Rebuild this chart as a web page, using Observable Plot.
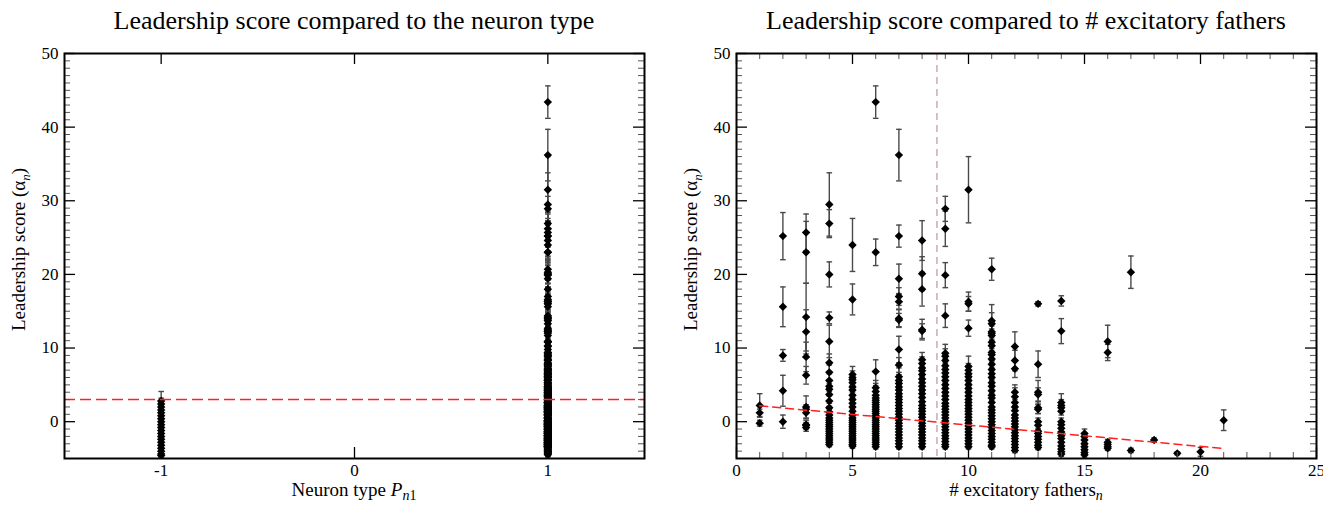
<!DOCTYPE html>
<html><head><meta charset="utf-8">
<script src="https://cdn.jsdelivr.net/npm/d3@7"></script>
<script src="https://cdn.jsdelivr.net/npm/@observablehq/plot@0.6"></script>
<style>
body{margin:0;background:#fff;font-family:"Liberation Serif","Times New Roman",serif;}
#wrap{position:relative;width:1323px;height:505px;overflow:hidden;background:#fff}
.panel{position:absolute;top:0;height:505px}
.title{position:absolute;top:0;height:42px;font-size:26px;text-align:center;line-height:42px;white-space:nowrap;color:#000}
.panel svg{position:absolute;top:40px;left:0;overflow:visible;font-family:"Liberation Serif","Times New Roman",serif !important}
.panel svg text{font-family:"Liberation Serif","Times New Roman",serif !important}
</style></head>
<body><div id="wrap"></div>
<script>
// ---------- data ----------
// number of excitatory fathers (x categories of right panel)
const fatherCounts = [1,2,3,4,5,6,7,8,9,10,11,12,13,14,15,16,17,18,19,20,21];
// [leadership score, error] for excitatory neurons, one list per father count
const pointsByFathers = [
  [[2.2,1.6],[1.2,0.5],[-0.2,0.4]],
  [[25.2,3.2],[15.6,2.7],[9.0,0.8],[4.2,2.1],[0.0,0.9]],
  [[25.7,2.5],[23.0,4.2],[14.2,4.6],[12.2,3.0],[8.8,2.0],[6.3,1.2],[2.0,1.5],[1.7,0.6],[1.2,0.8],[-0.4,0.6],[-0.8,0.5],[-0.5,0.4]],
  [[29.5,4.3],[26.9,1.9],[20.0,1.7],[14.1,0.8],[10.9,2.2],[8.0,1.2],[6.7,1.0],[5.6,0.9],[4.8,0.7],[4.4,0.8],[3.7,0.9],[2.8,0.7],[1.9,0.6],
   [1.3,0.4],[0.9,0.4],[0.5,0.4],[0.2,0.4],[-0.1,0.4],[-0.4,0.4],[-0.7,0.4],[-1.0,0.4],[-1.3,0.4],[-1.6,0.4],[-1.9,0.4],[-2.2,0.4],[-2.5,0.4],[-2.8,0.4],[-3.1,0.3]],
  [[24.0,3.6],[16.6,2.1],[6.4,1.1],[6.0,0.9],[5.7,0.8],[5.3,0.6],[4.7,0.7],[4.3,0.6],[3.6,0.7],[3.0,0.6],[2.5,0.8],[2.0,0.6],[1.4,0.7],[0.9,0.5],
   [0.5,0.4],[0.2,0.4],[-0.1,0.4],[-0.4,0.4],[-0.7,0.4],[-1.0,0.4],[-1.3,0.4],[-1.6,0.4],[-1.9,0.4],[-2.2,0.4],[-2.5,0.4],[-2.8,0.4],[-3.1,0.3],[-3.3,0.3]],
  [[43.4,2.2],[23.0,1.8],[6.8,1.6],[4.6,1.0],[4.1,0.8],[3.6,0.9],[3.2,0.8],[2.9,0.6],
   [2.6,0.5],[2.3,0.5],[2.0,0.5],[1.7,0.4],[1.4,0.4],[1.1,0.4],[0.8,0.4],[0.5,0.4],[0.2,0.4],[-0.1,0.4],[-0.4,0.4],[-0.7,0.4],[-1.0,0.4],[-1.3,0.4],[-1.6,0.4],[-1.9,0.4],[-2.2,0.4],[-2.5,0.4],[-2.8,0.4],[-3.1,0.3],[-3.4,0.3]],
  [[36.2,3.5],[25.2,1.5],[19.4,2.0],[17.0,1.2],[16.3,1.0],[14.0,1.2],[13.8,0.9],[9.8,1.8],[7.7,1.0],[6.1,1.2],[5.6,0.8],[5.2,0.6],[4.7,0.6],[4.3,0.7],[3.8,0.8],[3.4,0.6],[3.0,0.6],[2.6,0.5],
   [2.2,0.5],[1.8,0.4],[1.4,0.4],[1.0,0.4],[0.6,0.4],[0.2,0.4],[-0.2,0.4],[-0.6,0.4],[-1.0,0.4],[-1.4,0.4],[-1.8,0.4],[-2.2,0.4],[-2.6,0.4],[-3.0,0.3],[-3.4,0.3]],
  [[24.6,2.7],[20.1,2.3],[18.0,2.3],[12.5,1.4],[12.3,1.0],[8.4,1.0],[7.9,0.9],[7.3,1.1],[6.9,0.8],[6.4,0.9],[5.8,1.0],[5.3,0.8],[4.8,0.7],[4.3,0.6],[3.8,0.7],[3.3,0.8],[2.7,0.6],
   [2.2,0.5],[1.8,0.4],[1.4,0.4],[1.0,0.4],[0.6,0.4],[0.2,0.4],[-0.2,0.4],[-0.6,0.4],[-1.0,0.4],[-1.4,0.4],[-1.8,0.4],[-2.2,0.4],[-2.6,0.4],[-3.0,0.3],[-3.4,0.3]],
  [[28.9,1.7],[26.2,2.4],[19.9,1.7],[14.4,1.6],[9.3,1.2],[8.9,1.0],[8.3,0.9],[7.6,1.0],[7.1,1.3],[6.6,0.9],[6.1,0.8],[5.6,0.8],[5.0,1.0],[4.5,0.7],[4.0,0.6],[3.5,0.6],[3.0,0.7],
   [2.5,0.5],[2.1,0.4],[1.7,0.4],[1.3,0.4],[0.9,0.4],[0.5,0.4],[0.1,0.4],[-0.3,0.4],[-0.7,0.4],[-1.1,0.4],[-1.5,0.4],[-1.9,0.4],[-2.3,0.4],[-2.7,0.4],[-3.1,0.3],[-3.4,0.3]],
  [[31.5,4.5],[16.3,1.3],[16.0,1.0],[12.7,1.1],[7.5,1.4],[7.0,0.9],[6.5,1.1],[6.1,0.9],[5.6,0.8],[5.0,0.8],[4.5,0.7],[4.0,0.6],[3.5,0.7],[3.0,0.6],[2.6,0.5],
   [2.2,0.5],[1.8,0.4],[1.4,0.4],[1.0,0.4],[0.6,0.4],[0.2,0.4],[-0.2,0.4],[-0.6,0.4],[-1.0,0.4],[-1.4,0.4],[-1.8,0.4],[-2.2,0.4],[-2.6,0.4],[-3.0,0.3],[-3.4,0.3]],
  [[20.7,1.5],[13.7,2.2],[13.3,1.5],[12.2,1.3],[12.0,1.0],[11.7,0.9],[10.8,1.2],[10.3,0.9],[9.4,1.1],[9.1,0.8],[8.5,0.9],[7.8,0.8],[7.1,1.0],[6.5,0.8],[6.0,0.9],[5.3,0.9],[4.8,0.8],[4.2,0.6],[3.6,0.7],[3.2,0.6],[2.6,0.7],
   [2.0,0.5],[1.6,0.4],[1.2,0.4],[0.8,0.4],[0.4,0.4],[0.0,0.4],[-0.4,0.4],[-0.8,0.4],[-1.2,0.4],[-1.6,0.4],[-2.0,0.4],[-2.4,0.4],[-2.8,0.4],[-3.2,0.3],[-3.4,0.3]],
  [[10.2,2.0],[8.3,1.4],[7.2,1.2],[4.0,1.0],[3.4,1.2],[2.6,0.7],[2.0,0.6],[1.5,0.5],[0.9,0.6],
   [0.5,0.4],[0.1,0.4],[-0.3,0.4],[-0.7,0.4],[-1.1,0.4],[-1.5,0.4],[-1.9,0.4],[-2.3,0.4],[-2.7,0.4],[-3.1,0.4],[-3.5,0.3],[-3.9,0.3]],
  [[16.0,0.3],[7.8,1.8],[4.0,1.6],[3.7,0.9],[1.9,0.8],[1.7,0.6],[0.0,0.5],[-0.5,0.6],[-1.3,0.4],[-1.6,0.4],[-2.0,0.4],[-2.4,0.4],[-2.8,0.4],[-3.2,0.3],[-3.5,0.3]],
  [[16.4,0.7],[12.3,1.7],[2.6,1.2],[2.2,0.8],[1.9,0.6],[1.4,0.5],[0.0,0.5],[-0.4,0.4],[-0.9,0.5],[-1.4,0.4],[-1.9,0.4],[-2.3,0.4],[-2.8,0.4],[-3.3,0.4],[-3.7,0.4],[-4.1,0.3],[-4.4,0.3]],
  [[-1.6,0.6],[-2.0,0.4],[-2.5,0.4],[-3.0,0.4],[-3.4,0.4],[-3.8,0.3],[-4.2,0.3],[-4.5,0.3]],
  [[10.9,2.2],[9.4,1.1],[-2.8,0.4],[-3.1,0.4],[-3.4,0.4],[-3.6,0.3]],
  [[20.3,2.2],[-3.9,0.3]],
  [[-2.5,0.3]],
  [[-4.3,0.2]],
  [[-4.1,0.6]],
  [[0.2,1.4]]
];
// [leadership score, error] for inhibitory neurons (type -1)
const inhibitoryPoints = [[2.8,1.3],[2.4,0.8],[2.0,0.6],[1.6,0.5],[1.2,0.5],[0.8,0.4],[0.4,0.4],[0.0,0.4],[-0.4,0.4],[-0.8,0.4],[-1.2,0.4],[-1.6,0.4],[-2.0,0.4],[-2.4,0.4],[-2.8,0.4],[-3.2,0.4],[-3.6,0.3],[-4.0,0.3],[-4.4,0.3],[-4.6,0.2]];
const leaderThreshold = 3.0;          // red dashed line, left panel
const meanFathers = 8.64;             // vertical dashed line, right panel
const fitX = [1, 21];                 // regression line endpoints
const fitY = [2.15, -3.65];
// ticks
const yMajorTicks = [0,10,20,30,40,50];
const typeTicks = [-1,0,1];
const fatherTicks = [0,5,10,15,20,25];

// ---------- build rows ----------
const excit = fatherCounts.flatMap((n,i) => pointsByFathers[i].map(([s,e]) => ({n, type:1, score:s, err:e})));
const inhib = inhibitoryPoints.map(([s,e]) => ({type:-1, score:s, err:e}));
const typeRows = inhib.concat(excit);
const fitRows = fitX.map((x,i) => ({x, y: fitY[i]}));

const yMinorTicks = d3.range(-4, 50).filter(v => v % 10 !== 0);
const fatherMinor = d3.range(1, 25).filter(v => v % 5 !== 0);

const H = 465, MT = 13, MB = 47;
const FONT = '"Liberation Serif", "Times New Roman", serif';
const cap = {draw(ctx){ ctx.moveTo(-2.8,0); ctx.lineTo(2.8,0); }};

function pointMarks(data, xKey){
  const o = {x: xKey, stroke:"#4a4a4a", strokeWidth:1.4, clip:true};
  return [
    Plot.ruleX(data, {...o, y1: d => d.score - d.err, y2: d => d.score + d.err}),
    Plot.dot(data, {...o, y: d => d.score + d.err, symbol: cap, fill:"none"}),
    Plot.dot(data, {...o, y: d => d.score - d.err, symbol: cap, fill:"none"}),
    Plot.dot(data, {x: xKey, y: "score", symbol: "diamond2", r: 3.8, fill: "#000", clip:true})
  ];
}

function frameTicks(iw, ih, xMajor, xMinor){
  const M = 11, m = 6;
  const maj = {stroke:"#000", strokeWidth:1.3}, mi = {stroke:"#555", strokeWidth:1};
  return [
    Plot.tickY(yMajorTicks, {y: d=>d, insetRight: iw - M, ...maj}),
    Plot.tickY(yMajorTicks, {y: d=>d, insetLeft: iw - M, ...maj}),
    Plot.tickY(yMinorTicks, {y: d=>d, insetRight: iw - m, ...mi}),
    Plot.tickY(yMinorTicks, {y: d=>d, insetLeft: iw - m, ...mi}),
    Plot.tickX(xMajor, {x: d=>d, insetTop: ih - M, ...maj}),
    Plot.tickX(xMajor, {x: d=>d, insetBottom: ih - M, ...maj}),
    Plot.tickX(xMinor, {x: d=>d, insetTop: ih - m, ...mi}),
    Plot.tickX(xMinor, {x: d=>d, insetBottom: ih - m, ...mi})
  ];
}

function makePanel({left, width, ml, mr, xDomain, xMajor, xMinor, title, marks, xLabel}){
  const iw = width - ml - mr, ih = H - MT - MB;
  const panel = document.createElement("div");
  panel.className = "panel";
  panel.style.left = left + "px";
  panel.style.width = width + "px";
  const t = document.createElement("div");
  t.className = "title";
  t.style.left = ml + "px"; t.style.width = iw + "px";
  t.textContent = title;
  panel.appendChild(t);
  const svg = Plot.plot({
    width, height: H, marginTop: MT, marginBottom: MB, marginLeft: ml, marginRight: mr,
    x: {domain: xDomain}, y: {domain: [-5, 50]},
    style: {fontFamily: FONT, fontSize: "17px", color: "#000", background: "transparent", overflow: "visible"},
    marks: [
      ...marks,
      ...frameTicks(iw, ih, xMajor, xMinor),
      Plot.frame({stroke: "#000", strokeWidth: 2}),
      Plot.axisY(yMajorTicks, {tickSize: 0, tickPadding: 6, label: null, fontSize: 17, tickFormat: d => String(d)}),
      Plot.axisX(xMajor, {tickSize: 0, tickPadding: 5, label: null, fontSize: 17, tickFormat: d => String(d)})
    ]
  });
  const s = d3.select(svg);
  s.style("font-family", FONT);
  // y label
  const yl = s.append("text")
    .attr("transform", `translate(${ml - 39},${(MT + H - MB)/2 - 6}) rotate(-90)`)
    .attr("text-anchor", "middle").attr("font-size", 19).attr("fill", "#000");
  yl.append("tspan").text("Leadership score (α");
  yl.append("tspan").attr("font-size", 13).attr("font-style", "italic").attr("dy", "5").text("n");
  yl.append("tspan").attr("dy", "-5").text(")");
  // x label
  const xl = s.append("text")
    .attr("x", ml + iw/2).attr("y", H - 9)
    .attr("text-anchor", "middle").attr("font-size", 19).attr("fill", "#000");
  xLabel(xl);
  panel.appendChild(svg);
  document.getElementById("wrap").appendChild(panel);
}

makePanel({
  left: 0, width: 660, ml: 64, mr: 16, xDomain: [-1.5, 1.5],
  xMajor: typeTicks, xMinor: [],
  title: "Leadership score compared to the neuron type",
  marks: [
    ...pointMarks(typeRows, "type"),
    Plot.ruleY([leaderThreshold], {stroke: "#ff2020", strokeWidth: 1.5, strokeDasharray: "11,5"})
  ],
  xLabel: (xl) => {
    xl.append("tspan").text("Neuron type ");
    xl.append("tspan").attr("font-style", "italic").text("P");
    xl.append("tspan").attr("font-style", "italic").attr("font-size", 14).attr("dy", 4).text("n");
    xl.append("tspan").attr("font-size", 14).text("1");
  }
});

makePanel({
  left: 661, width: 662, ml: 75, mr: 7, xDomain: [0, 25],
  xMajor: fatherTicks, xMinor: fatherMinor,
  title: "Leadership score compared to # excitatory fathers",
  marks: [
    Plot.ruleX([meanFathers], {stroke: "#c49494", strokeWidth: 1.2, strokeDasharray: "7,5"}),
    ...pointMarks(excit, "n"),
    Plot.line(fitRows, {x: "x", y: "y", stroke: "#ff2020", strokeWidth: 1.5, strokeDasharray: "8,5"})
  ],
  xLabel: (xl) => {
    xl.append("tspan").text("# excitatory fathers");
    xl.append("tspan").attr("font-style", "italic").attr("font-size", 14).attr("dy", 4).text("n");
  }
});
</script>
</body></html>
